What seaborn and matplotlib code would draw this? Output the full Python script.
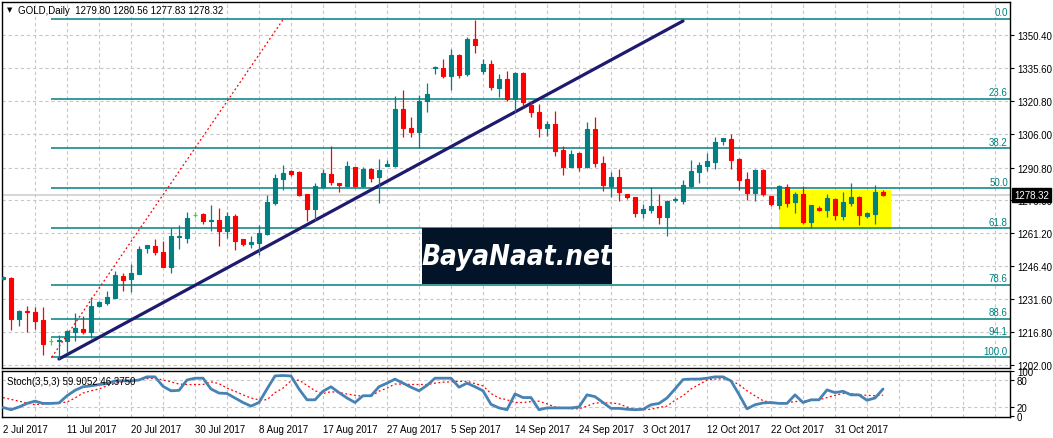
import matplotlib
matplotlib.use("Agg")
import matplotlib.pyplot as plt
import seaborn as sns
import numpy as np
import pandas as pd
from matplotlib.patches import Rectangle

# ---------------- data ----------------
opens = [1240.5, 1241.1, 1222.7, 1226.4, 1225.8, 1222.2, 1212.8, 1212.8, 1212.9, 1217.0,
         1218.2, 1217.0, 1228.7, 1230.0, 1232.1, 1242.0, 1240.7, 1242.9, 1254.5, 1255.5,
         1252.8, 1246.2, 1259.4, 1259.3, 1269.6, 1269.8, 1266.8, 1267.2, 1262.4, 1268.9,
         1258.7, 1256.6, 1257.0, 1260.9, 1275.0, 1285.6, 1289.4, 1288.7, 1278.9, 1272.2,
         1281.9, 1287.9, 1283.7, 1282.7, 1291.0, 1282.7, 1290.1, 1286.4, 1291.7, 1291.6,
         1317.1, 1308.6, 1306.6, 1320.9, 1335.4, 1335.6, 1332.1, 1341.4, 1332.9, 1348.6,
         1334.3, 1337.4, 1326.4, 1330.6, 1321.6, 1333.2, 1319.1, 1315.6, 1308.4, 1310.4,
         1298.7, 1291.2, 1297.2, 1291.2, 1308.1, 1292.7, 1282.7, 1286.4, 1278.8, 1277.4,
         1270.5, 1271.8, 1273.6, 1268.4, 1276.0, 1275.9, 1282.6, 1288.9, 1291.6, 1293.4,
         1302.9, 1303.6, 1294.6, 1285.6, 1279.3, 1289.7, 1277.9, 1273.9, 1281.9, 1275.2,
         1278.9, 1266.4, 1272.6, 1271.8, 1276.6, 1269.1, 1274.9, 1277.7, 1269.1, 1269.9,
         1279.80]
highs = [1242.0, 1241.6, 1226.7, 1228.4, 1228.2, 1227.9, 1214.1, 1215.5, 1217.7, 1225.4,
         1224.2, 1232.4, 1230.8, 1235.4, 1244.4, 1243.4, 1247.4, 1255.7, 1256.0, 1258.5,
         1257.7, 1263.5, 1265.0, 1270.7, 1270.7, 1270.4, 1273.9, 1272.6, 1270.9, 1269.9,
         1258.7, 1259.9, 1264.9, 1278.4, 1287.9, 1291.9, 1289.8, 1289.3, 1278.9, 1283.8,
         1290.1, 1300.6, 1283.9, 1293.7, 1291.0, 1290.9, 1290.4, 1294.6, 1294.2, 1323.1,
         1325.8, 1313.4, 1323.4, 1328.8, 1336.6, 1339.6, 1344.1, 1341.9, 1349.6, 1357.3,
         1339.6, 1339.2, 1332.9, 1334.4, 1333.6, 1333.6, 1320.1, 1319.4, 1311.9, 1316.4,
         1300.6, 1298.8, 1297.7, 1311.1, 1313.4, 1295.8, 1288.7, 1290.1, 1278.8, 1277.7,
         1274.4, 1281.9, 1278.9, 1276.0, 1277.5, 1285.2, 1294.2, 1293.4, 1297.2, 1304.4,
         1304.3, 1306.0, 1294.9, 1288.9, 1290.1, 1290.1, 1278.2, 1282.9, 1283.4, 1279.9,
         1282.6, 1274.0, 1273.4, 1278.9, 1276.9, 1279.9, 1283.8, 1278.1, 1270.7, 1282.9,
         1280.56]
lows = [1240.0, 1217.7, 1219.7, 1217.0, 1218.2, 1206.5, 1211.0, 1204.7, 1207.4, 1213.0,
        1216.1, 1214.0, 1228.0, 1229.1, 1232.1, 1235.3, 1235.0, 1242.9, 1252.4, 1251.6,
        1245.9, 1243.4, 1254.2, 1256.9, 1268.5, 1265.4, 1262.4, 1255.7, 1259.1, 1253.9,
        1255.7, 1254.6, 1251.5, 1260.6, 1273.9, 1280.8, 1287.1, 1278.1, 1266.9, 1267.4,
        1281.5, 1283.0, 1280.0, 1282.7, 1281.9, 1282.2, 1284.2, 1274.7, 1291.4, 1291.2,
        1304.7, 1304.7, 1299.6, 1315.9, 1332.9, 1331.1, 1325.7, 1331.1, 1332.0, 1342.3,
        1332.9, 1325.7, 1322.4, 1320.6, 1315.6, 1318.6, 1313.7, 1304.4, 1305.1, 1296.1,
        1287.6, 1290.9, 1289.1, 1290.6, 1291.2, 1280.4, 1277.4, 1275.6, 1276.7, 1268.7,
        1268.0, 1270.2, 1265.4, 1260.1, 1275.2, 1274.4, 1281.9, 1283.8, 1289.4, 1290.1,
        1300.9, 1290.1, 1280.8, 1276.3, 1275.9, 1277.9, 1273.4, 1272.2, 1273.2, 1270.4,
        1265.4, 1263.6, 1271.1, 1268.7, 1267.4, 1267.4, 1273.4, 1264.9, 1268.0, 1265.4,
        1277.83]
closes = [1241.5, 1222.7, 1226.3, 1225.9, 1221.9, 1211.4, 1212.8, 1213.4, 1217.2, 1218.5,
          1216.7, 1228.5, 1230.5, 1232.4, 1242.5, 1240.2, 1243.4, 1254.2, 1256.0, 1253.0,
          1246.2, 1260.0, 1259.9, 1268.1, 1269.6, 1266.8, 1267.2, 1262.4, 1268.9, 1257.9,
          1256.4, 1257.1, 1261.2, 1275.4, 1285.9, 1288.5, 1287.9, 1278.6, 1272.2, 1282.4,
          1288.3, 1284.2, 1283.0, 1291.4, 1282.4, 1290.1, 1285.9, 1289.7, 1292.2, 1317.1,
          1308.4, 1306.6, 1320.6, 1323.9, 1335.9, 1332.1, 1341.4, 1332.4, 1348.6, 1346.0,
          1337.4, 1326.9, 1330.6, 1321.6, 1333.2, 1320.1, 1315.6, 1308.4, 1310.4, 1298.4,
          1291.2, 1296.9, 1291.2, 1308.1, 1292.7, 1283.1, 1286.4, 1279.7, 1277.4, 1270.5,
          1272.2, 1273.6, 1268.4, 1275.6, 1276.5, 1282.9, 1289.1, 1291.9, 1293.9, 1302.4,
          1304.1, 1294.3, 1285.2, 1279.3, 1289.7, 1278.9, 1274.4, 1282.4, 1274.9, 1278.9,
          1266.4, 1273.9, 1271.7, 1277.1, 1269.6, 1275.4, 1277.7, 1269.4, 1270.4, 1279.7,
          1278.32]

stoch_k = [19, 14, 20, 28, 33, 28, 28, 29, 45, 57, 65, 67, 70, 72, 78, 78, 78, 80, 87, 87,
           66, 56, 57, 80, 84, 84, 60, 51, 50, 40, 30, 22, 30, 60, 89, 90, 89, 60, 36, 36,
           55, 65, 52, 40, 30, 45, 45, 65, 73, 82, 73, 64, 56, 68, 84, 84, 84, 64, 73, 65,
           56, 26, 18, 14, 49, 41, 41, 14, 18, 18, 18, 18, 20, 47, 43, 30, 17, 17, 15, 14,
           15, 25, 28, 40, 60, 81, 82, 82, 84, 87, 87, 78, 48, 16, 25, 29, 30, 28, 28, 47,
           30, 36, 36, 58, 52, 55, 47, 47, 35, 40, 59.9]
stoch_d = [41, 37, 33, 29, 25, 27, 28, 29, 31, 40, 51, 56, 60, 67, 73, 76, 78, 80, 83, 84,
           80, 76, 71, 70, 70, 70, 76, 72, 62, 55, 47, 40, 36, 36, 52, 62, 78, 80, 68, 56,
           50, 54, 52, 49, 46, 44, 44, 55, 62, 71, 71, 70, 70, 70, 73, 75, 76, 77, 77, 72,
           67, 50, 40, 36, 30, 30, 32, 33, 27, 20, 18, 16, 16, 22, 29, 29, 29, 27, 20, 15,
           14, 15, 19, 22, 35, 45, 60, 70, 80, 82, 83, 78, 70, 56, 45, 34, 30, 28, 30, 32,
           33, 34, 36, 41, 46, 50, 50, 47, 46, 45, 46.4]

date_labels = ["2 Jul 2017", "11 Jul 2017", "20 Jul 2017", "30 Jul 2017", "8 Aug 2017",
               "17 Aug 2017", "27 Aug 2017", "5 Sep 2017", "14 Sep 2017", "24 Sep 2017",
               "3 Oct 2017", "12 Oct 2017", "22 Oct 2017", "31 Oct 2017"]
price_ticks = [1350.40, 1335.60, 1320.80, 1306.00, 1290.80, 1276.00, 1261.20,
               1246.40, 1231.60, 1216.80, 1202.00]
fib_labels = ["0.0", "23.6", "38.2", "50.0", "61.8", "78.6", "88.6", "94.1", "100.0"]
fib_prices = [1357.6, 1321.7, 1299.5, 1281.5, 1263.5, 1238.0, 1222.8, 1214.4, 1205.4]
last_price = 1278.32

# ---------------- style ----------------
sns.set_theme(style="white")
plt.rcParams['font.family'] = ['Liberation Sans', 'DejaVu Sans']

TEAL = "#008080"
RED = "#FF0000"
LIME = "#00FF00"
GRID = "#C8C8C8"
FS = 7

W, H = 1053, 439
fig = plt.figure(figsize=(W / 100, H / 100), dpi=100)
fig.patch.set_facecolor("white")


def px_axes(x0, y0, x1, y1):
    return fig.add_axes([x0 / W, 1 - y1 / H, (x1 - x0) / W, (y1 - y0) / H])


ax = px_axes(2, 3, 1010, 369)
ax2 = px_axes(2, 372, 1010, 418)

n = len(closes)
bars = np.arange(n)
df = pd.DataFrame({"bar": bars, "open": opens, "high": highs, "low": lows,
                   "close": closes, "k": stoch_k, "d": stoch_d})
colors = [TEAL if c > o else (RED if c < o else LIME) for o, c in zip(opens, closes)]

XL = (-0.125, 125.875)
ax.set_xlim(*XL)
ax.set_ylim(1200.65, 1365.24)

# grid
grid_x = np.arange(4, 126, 4)
for gx in grid_x:
    ax.axvline(gx, color=GRID, lw=0.8, ls=(0, (3, 2.5)), zorder=0)
    ax2.axvline(gx, color=GRID, lw=0.8, ls=(0, (3, 2.5)), zorder=0)
for py in price_ticks:
    ax.axhline(py, color=GRID, lw=0.8, ls=(0, (3, 2.5)), zorder=0)

# current price line
ax.axhline(last_price, color="#CFCFCF", lw=1.2, zorder=0.5)

# yellow consolidation box
ax.add_patch(Rectangle((97, 1262.85), 14, 17.85, facecolor="#FFFF00", edgecolor="none", zorder=1))

# fib lines & labels
for lvl, lab in zip(fib_prices, fib_labels):
    ax.hlines(lvl, 6.0, XL[1], color=TEAL, lw=1.1, zorder=2)
    ax.text(125.6, lvl + 0.7, lab, ha="right", va="bottom", color=TEAL, fontsize=FS, zorder=6)

# red dotted fib base line
sns.lineplot(x=[6.1, 35.0], y=[1205.5, 1357.3], ax=ax, color=RED, lw=0.9,
             linestyle=(0, (1.5, 2)), zorder=2, legend=False)

# trendline
sns.lineplot(x=[7.0, 85.0], y=[1204.7, 1356.7], ax=ax, color="#1E1A6E", lw=2.3,
             zorder=3, legend=False)

# candles
ax.vlines(df["bar"], df["low"], df["high"], colors=colors, lw=0.9, zorder=4)
body_bottom = np.minimum(df["open"], df["close"])
body_height = np.abs(df["close"] - df["open"])
ax.bar(df["bar"], body_height, bottom=body_bottom, width=0.52, color=colors,
       edgecolor=colors, linewidth=0.8, zorder=5)

# watermark
ax.add_patch(Rectangle((52.4, 1238.4), 23.7, 25.2, facecolor="#031429", edgecolor="none", zorder=4))
ax.text(64.2, 1250.8, "BayaNaat.net", color="white", fontsize=20, fontstyle="italic",
        fontweight="bold", ha="center", va="center", zorder=6,
        family=["DejaVu Sans"], fontstretch="condensed")

# axes frames
for a in (ax, ax2):
    for s in a.spines.values():
        s.set_color("black")
        s.set_linewidth(1.0)
        s.set_visible(True)

ax.set_xticks([])
ax.yaxis.tick_right()
ax.set_yticks(price_ticks)
ax.set_yticklabels([f"{p:.2f}" for p in price_ticks])
ax.tick_params(axis="y", which="both", right=True, length=3, width=0.8, pad=2,
               labelsize=FS, colors="black", direction="out")
ax.set_xlabel("")
ax.set_ylabel("")

# last price tag
ax.annotate(f"{last_price:.2f}", xy=(1.0, last_price), xycoords=("axes fraction", "data"),
            xytext=(3, 0), textcoords="offset points", ha="left", va="center",
            fontsize=FS, color="white", zorder=10, annotation_clip=False,
            bbox=dict(boxstyle="square,pad=0.2", fc="black", ec="black"))

# title
fig.text(18 / W, 1 - 11 / H, "GOLD,Daily  1279.80 1280.56 1277.83 1278.32",
         fontsize=FS, ha="left", va="center", color="black")
fig.text(9.5 / W, 1 - 10.5 / H, "\u25BC", fontsize=5, ha="center", va="center",
         color="black", family=["DejaVu Sans"])

# stochastic panel
ax2.set_xlim(*XL)
ax2.set_ylim(-2.2, 100)
for lv in (80, 20):
    ax2.axhline(lv, color=GRID, lw=0.8, ls=(0, (3, 2.5)), zorder=0)
sns.lineplot(data=df, x="bar", y="d", ax=ax2, color=RED, lw=0.9,
             linestyle=(0, (1.5, 2)), zorder=2, legend=False)
sns.lineplot(data=df, x="bar", y="k", ax=ax2, color="#4682B4", lw=2.0, zorder=3, legend=False)
ax2.text(5 / 1008, 0.78, "Stoch(3,5,3) 59.9052 46.3750", transform=ax2.transAxes,
         fontsize=FS, ha="left", va="center", color="black", zorder=6)
ax2.yaxis.tick_right()
ax2.set_yticks([100, 80, 20, 0])
ax2.set_yticklabels(["100", "80", "20", "0"])
ax2.tick_params(axis="y", right=True, length=3, width=0.8, pad=2, labelsize=FS,
                colors="black", direction="out")
ax2.set_xticks(np.arange(0, 8 * len(date_labels), 8))
ax2.set_xticklabels(date_labels, ha="left")
ax2.tick_params(axis="x", bottom=True, length=0, pad=5, labelsize=FS, colors="black")
ax2.set_xlabel("")
ax2.set_ylabel("")

fig.savefig("out.png", dpi=100, facecolor="white")
